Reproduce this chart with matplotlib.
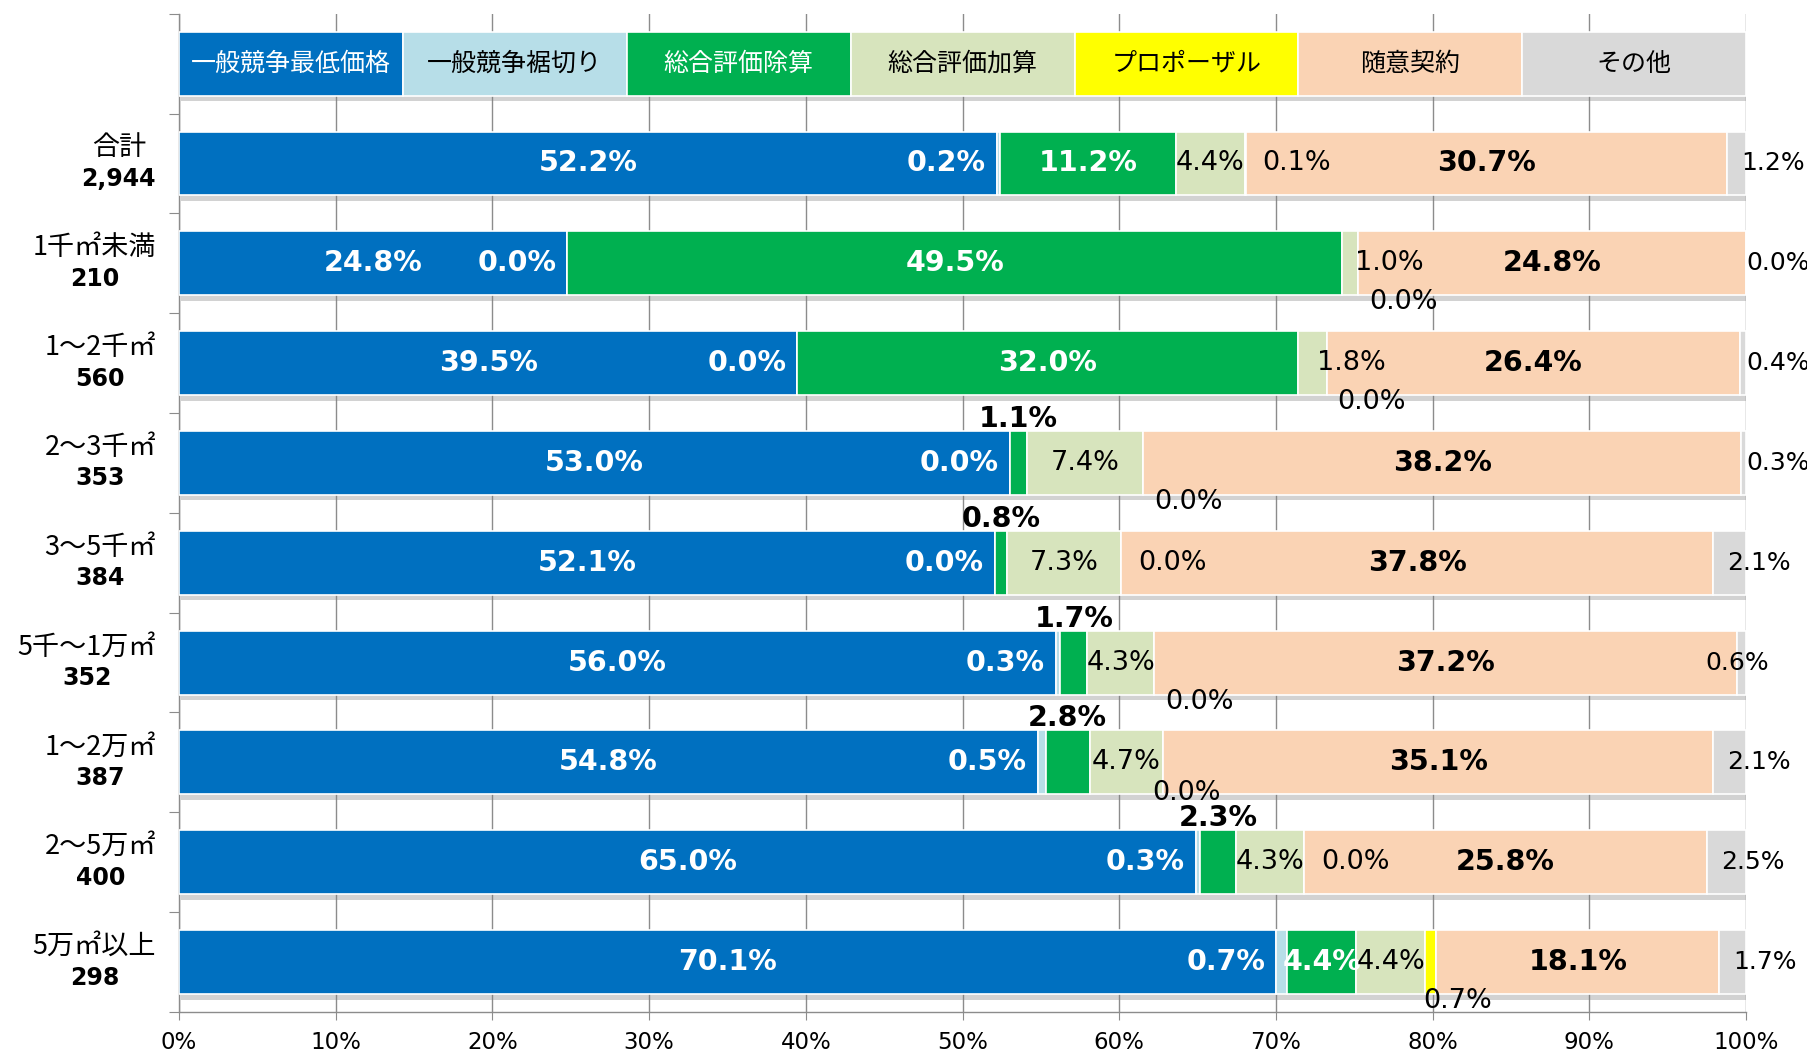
import numpy as np
import matplotlib
matplotlib.use("Agg")
import matplotlib.pyplot as plt
from matplotlib import patheffects as pe

plt.rcParams['font.family'] = ['DejaVu Sans', 'Noto Sans CJK JP']

# ---- data -------------------------------------------------------------
series_names = ["一般競争最低価格", "一般競争裾切り", "総合評価除算", "総合評価加算",
                "プロポーザル", "随意契約", "その他"]
row_names = ["合計", "1千㎡未満", "1～2千㎡", "2～3千㎡", "3～5千㎡",
             "5千～1万㎡", "1～2万㎡", "2～5万㎡", "5万㎡以上"]
row_counts = ["2,944", "210", "560", "353", "384", "352", "387", "400", "298"]

lowest_price = [52.2, 24.8, 39.5, 53.0, 52.1, 56.0, 54.8, 65.0, 70.1]
threshold    = [0.2, 0.0, 0.0, 0.0, 0.0, 0.3, 0.5, 0.3, 0.7]
eval_divide  = [11.2, 49.5, 32.0, 1.1, 0.8, 1.7, 2.8, 2.3, 4.4]
eval_add     = [4.4, 1.0, 1.8, 7.4, 7.3, 4.3, 4.7, 4.3, 4.4]
proposal     = [0.1, 0.0, 0.0, 0.0, 0.0, 0.0, 0.0, 0.0, 0.7]
negotiated   = [30.7, 24.8, 26.4, 38.2, 37.8, 37.2, 35.1, 25.8, 18.1]
other        = [1.2, 0.0, 0.4, 0.3, 2.1, 0.6, 2.1, 2.5, 1.7]

values = [lowest_price, threshold, eval_divide, eval_add, proposal, negotiated, other]

# ---- styling ----------------------------------------------------------
colors = ["#0070C0", "#B7DEE8", "#00B050", "#D7E4BD", "#FFFF00", "#FAD3B4", "#D9D9D9"]
legend_text_colors = ["white", "black", "white", "black", "black", "black", "black"]
# where the proposal label sits: inside the bar or just under it
proposal_side = ["in", "below", "below", "below", "in", "below", "below", "in", "below"]
# extra nudges (percent units / row units) for crowded labels
label_nudge = {(5, 6): -2.6, (6, 4): -1.4, (8, 4): -0.8}
label_nudge_y = {(6, 4): -0.08}

W, H, DPI = 1807, 1056, 100
fig = plt.figure(figsize=(W / DPI, H / DPI), dpi=DPI)
ax = fig.add_axes([0.0991, 0.0417, 0.8672, 0.9453])

bar_h = 0.64
shadow = [pe.SimplePatchShadow(offset=(1.5, -4), shadow_rgbFace="#7f7f7f", alpha=0.35),
          pe.Normal()]

BOLD_SIZE = 20.5
NORMAL_SIZE = 19.5
EDGE_SIZE = 18

# legend row drawn as a strip of equal boxes at the top slot
n_series = len(series_names)
leg_w = 100.0 / n_series
for k, name in enumerate(series_names):
    b = ax.barh(0, leg_w, left=k * leg_w, height=bar_h, color=colors[k],
                edgecolor="white", linewidth=1.2, zorder=3)
    for p in b:
        p.set_path_effects(shadow)
    ax.text(k * leg_w + leg_w / 2, 0, name, ha="center", va="center",
            fontsize=18, color=legend_text_colors[k],
            family=["Noto Sans CJK JP"], zorder=5)

n_rows = len(row_names)
for i in range(n_rows):
    y = i + 1
    vals = [s[i] for s in values]
    total = sum(vals)
    widths = [v / total * 100.0 for v in vals]
    starts = np.concatenate([[0.0], np.cumsum(widths)[:-1]])
    bars = ax.barh([y] * n_series, widths, left=starts, height=bar_h,
                   color=colors, edgecolor="white", linewidth=1.2, zorder=3)
    for p in bars:
        p.set_path_effects(shadow)

    top = y - bar_h / 2
    bottom = y + bar_h / 2
    for k, v in enumerate(vals):
        txt = f"{v:.1f}%"
        s, w = starts[k], widths[k]
        kw = dict(va="center", zorder=6)
        if k == 0:
            x, ty, ha = s + w / 2, y, "center"
            kw.update(color="white", fontweight="bold", fontsize=BOLD_SIZE)
        elif k == 1:
            x, ty, ha = s - 0.7, y, "right"
            kw.update(color="white", fontweight="bold", fontsize=BOLD_SIZE)
        elif k == 2:
            if v >= 4:
                x, ty, ha = s + w / 2, y, "center"
                kw.update(color="white", fontweight="bold", fontsize=BOLD_SIZE)
            else:
                x, ty, ha = s + w / 2, top + 0.02, "center"
                kw.update(color="black", fontweight="bold", fontsize=BOLD_SIZE, va="bottom")
        elif k == 3:
            if v >= 2:
                x, ty, ha = s + w / 2, y, "center"
            else:
                x, ty, ha = s + w / 2 + 0.3, y, "left"
            kw.update(color="black", fontsize=NORMAL_SIZE)
        elif k == 4:
            if proposal_side[i] == "in":
                x, ty, ha = s + 1.1, y, "left"
            else:
                x, ty, ha = s + 0.7, bottom + 0.07, "left"
            kw.update(color="black", fontsize=NORMAL_SIZE)
        elif k == 5:
            x, ty, ha = s + w / 2, y, "center"
            kw.update(color="black", fontweight="bold", fontsize=BOLD_SIZE)
        else:
            x, ty, ha = min(s + 0.9, 100.0), y, "left"
            kw.update(color="black", fontsize=EDGE_SIZE)
        x += label_nudge.get((i, k), 0.0)
        ty += label_nudge_y.get((i, k), 0.0)
        ax.text(x, ty, txt, ha=ha, **kw)

ax.set_xlim(0, 100)
ax.set_ylim(n_rows + 0.5, -0.5)

ax.set_xticks(np.arange(0, 101, 10))
ax.set_xticklabels([f"{t}%" for t in range(0, 101, 10)], fontsize=16.5)
ax.tick_params(axis="x", length=6, color="#8c8c8c", pad=8)
ax.set_yticks(np.arange(-0.5, n_rows + 1, 1))
ax.set_yticklabels([])
ax.tick_params(axis="y", length=7, color="#8c8c8c")

ax.grid(axis="x", color="#8c8c8c", linewidth=1.0)
ax.set_axisbelow(True)
for side in ("top", "right"):
    ax.spines[side].set_visible(False)
for side in ("left", "bottom"):
    ax.spines[side].set_color("#8c8c8c")
    ax.spines[side].set_linewidth(1.0)

# category labels: name line + bold count line, block right-aligned near the axis
fig.canvas.draw()
renderer = fig.canvas.get_renderer()
ax_w_px = ax.get_window_extent(renderer).width
gap_px = 23
ytrans = ax.get_yaxis_transform()
for i in range(n_rows):
    y = i + 1
    t1 = ax.text(0, y - 0.155, row_names[i], transform=ytrans, ha="center",
                 va="center", fontsize=19.5, family=["Noto Sans CJK JP"])
    t2 = ax.text(0, y + 0.155, row_counts[i], transform=ytrans, ha="center",
                 va="center", fontsize=17, fontweight="bold")
    wmax = max(t1.get_window_extent(renderer).width, t2.get_window_extent(renderer).width)
    xc = -(gap_px + wmax / 2) / ax_w_px
    t1.set_x(xc)
    t2.set_x(xc)

fig.savefig("out.png", dpi=DPI)
